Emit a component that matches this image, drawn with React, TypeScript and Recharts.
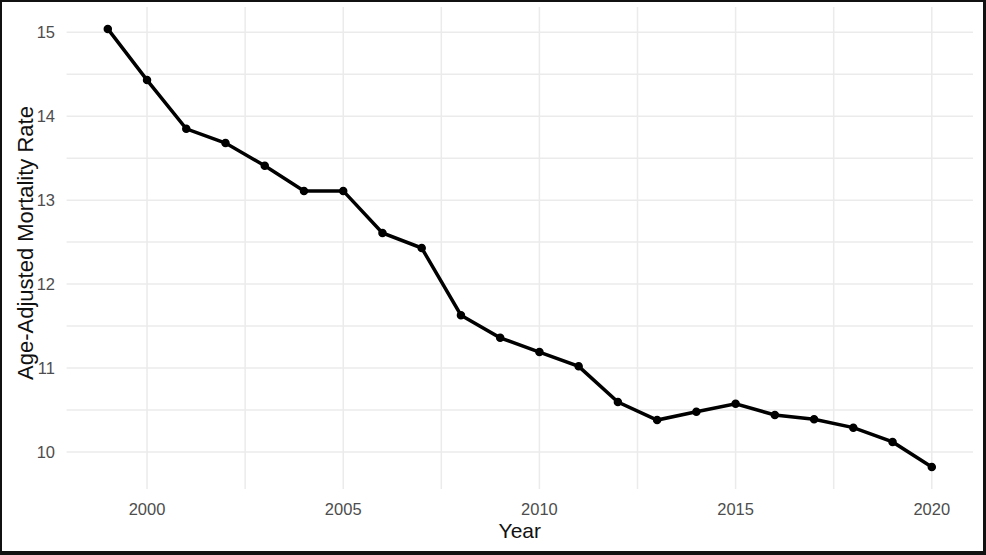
import React from 'react';
import { LineChart, Line, XAxis, YAxis, CartesianGrid, Label } from 'recharts';

const years = [1999, 2000, 2001, 2002, 2003, 2004, 2005, 2006, 2007, 2008, 2009, 2010, 2011, 2012, 2013, 2014, 2015, 2016, 2017, 2018, 2019, 2020];
const rates = [15.04, 14.43, 13.85, 13.68, 13.41, 13.11, 13.11, 12.61, 12.43, 11.63, 11.36, 11.19, 11.02, 10.595, 10.38, 10.48, 10.575, 10.44, 10.39, 10.29, 10.12, 9.82];
const xTicks = [2000, 2005, 2010, 2015, 2020];
const yTicks = [10, 11, 12, 13, 14, 15];
const xGrid = [2000, 2002.5, 2005, 2007.5, 2010, 2012.5, 2015, 2017.5, 2020];
const yGrid = [10, 10.5, 11, 11.5, 12, 12.5, 13, 13.5, 14, 14.5, 15];

const data = years.map((year, i) => ({ year, rate: rates[i] }));

const FONT = '"Liberation Sans", Arial, Helvetica, sans-serif';

const YTitle = (props: any) => {
  const vb = props.viewBox || { x: 0, y: 0, width: 0, height: 0 };
  const x = vb.x + 33;
  const y = vb.y + vb.height / 2 - 5;
  return (
    <text
      x={x}
      y={y}
      transform={`rotate(-90, ${x}, ${y})`}
      textAnchor="middle"
      fill="#111"
      fontSize={22}
      fontFamily={FONT}
    >
      Age-Adjusted Mortality Rate
    </text>
  );
};

export default function App() {
  return (
    <div style={{ position: 'absolute', left: 0, top: 0, width: 986, height: 555, background: '#fff' }}>
      <LineChart
        width={986}
        height={555}
        data={data}
        margin={{ top: 7, right: 13, left: 0, bottom: 0 }}
        style={{ fontFamily: FONT }}
      >
        <CartesianGrid
          stroke="#EBEBEB"
          strokeWidth={1.5}
          horizontalValues={yGrid}
          verticalValues={xGrid}
        />
        <XAxis
          dataKey="year"
          type="number"
          domain={[1997.95, 2021.05]}
          allowDataOverflow
          ticks={xTicks}
          tickLine={false}
          axisLine={false}
          tickSize={0}
          tickMargin={14}
          height={66}
          tick={{ fill: '#4D4D4D', fontSize: 16.5, fontFamily: FONT }}
        >
          <Label value="Year" position="insideBottom" offset={17} fill="#111" fontSize={21} fontFamily={FONT} />
        </XAxis>
        <YAxis
          type="number"
          domain={[9.559, 15.301]}
          allowDataOverflow
          ticks={yTicks}
          tickLine={false}
          axisLine={false}
          tickSize={0}
          tickMargin={11.6}
          width={66.6}
          tick={{ fill: '#4D4D4D', fontSize: 16.5, fontFamily: FONT }}
        >
          <Label content={YTitle} />
        </YAxis>
        <Line
          dataKey="rate"
          type="linear"
          stroke="#000"
          strokeWidth={3.5}
          dot={{ r: 3.5, fill: '#000', stroke: '#000', strokeWidth: 1.5 }}
          activeDot={false}
          isAnimationActive={false}
        />
      </LineChart>
      <div
        style={{
          position: 'absolute',
          inset: 0,
          boxSizing: 'border-box',
          borderStyle: 'solid',
          borderColor: '#111',
          borderWidth: '2px 3px 4px 2px',
          pointerEvents: 'none',
        }}
      />
    </div>
  );
}
